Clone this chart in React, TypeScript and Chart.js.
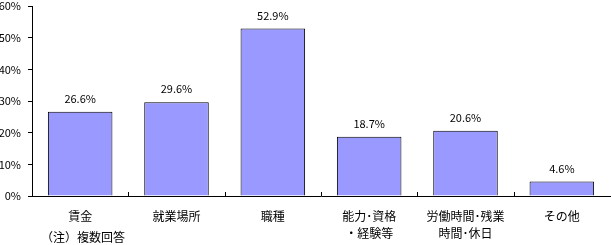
import React, { useEffect, useRef } from "react";
import { Chart, registerables } from "chart.js";

Chart.register(...registerables);

const categories: (string | string[])[] = [
  "賃金",
  "就業場所",
  "職種",
  ["能力･資格", "・経験等"],
  ["労働時間･残業", "時間･休日"],
  "その他",
];
const values: number[] = [26.6, 29.6, 52.9, 18.7, 20.6, 4.6];
const yTicks: number[] = [0, 10, 20, 30, 40, 50, 60];
const footnote = "（注）複数回答";

const FONT = "'Noto Sans CJK JP', 'DejaVu Sans', sans-serif";

const innerTicks = {
  id: "innerTicks",
  afterDraw(chart: any) {
    const x = chart.scales.x;
    const ctx = chart.ctx;
    const bottom = chart.chartArea.bottom;
    ctx.save();
    ctx.strokeStyle = "#000";
    ctx.lineWidth = 1;
    for (let i = 1; i < categories.length; i++) {
      const px = Math.round((x.getPixelForValue(i - 1) + x.getPixelForValue(i)) / 2) + 0.5;
      ctx.beginPath();
      ctx.moveTo(px, bottom - 4);
      ctx.lineTo(px, bottom);
      ctx.stroke();
    }
    ctx.restore();
  },
};

const dataLabels = {
  id: "dataLabels",
  afterDatasetsDraw(chart: any) {
    const ctx = chart.ctx;
    const meta = chart.getDatasetMeta(0);
    ctx.save();
    ctx.fillStyle = "#000";
    ctx.font = `11px ${FONT}`;
    ctx.textAlign = "center";
    ctx.textBaseline = "middle";
    meta.data.forEach((bar: any, i: number) => {
      ctx.fillText(values[i].toFixed(1) + "%", bar.x, bar.y - 13);
    });
    ctx.restore();
  },
};

export default function App() {
  const ref = useRef<HTMLCanvasElement>(null);
  useEffect(() => {
    if (!ref.current) return;
    const chart = new Chart(ref.current, {
      type: "bar",
      data: {
        labels: categories,
        datasets: [
          {
            data: values,
            backgroundColor: "#9999FF",
            borderColor: "#000000",
            borderWidth: 1,
            categoryPercentage: 1,
            barPercentage: 0.67,
          },
        ],
      },
      options: {
        responsive: false,
        animation: false,
        layout: { padding: { top: 6, right: 1, bottom: 0, left: 0 } },
        plugins: {
          legend: { display: false },
          tooltip: { enabled: false },
        },
        scales: {
          x: {
            offset: true,
            grid: { display: false },
            border: { display: true, color: "#000" },
            ticks: {
              color: "#000",
              font: { family: FONT, size: 12, lineHeight: 1.4 },
              maxRotation: 0,
              autoSkip: false,
              padding: 4,
            },
            afterFit(scale: any) {
              scale.height = 49;
              scale.paddingLeft = 0;
              scale.paddingRight = 0;
            },
          },
          y: {
            min: 0,
            max: 60,
            afterBuildTicks(scale: any) {
              scale.ticks = yTicks.map((v) => ({ value: v }));
            },
            grid: {
              display: true,
              drawOnChartArea: false,
              drawTicks: true,
              tickLength: 4,
              color: "#000",
            },
            border: { display: true, color: "#000" },
            ticks: {
              color: "#000",
              font: { family: FONT, size: 11 },
              padding: 7,
              callback: (v: any) => v + "%",
            },
            afterFit(scale: any) {
              scale.width = 32;
              scale.paddingTop = 0;
              scale.paddingBottom = 0;
            },
          },
        },
      },
      plugins: [innerTicks, dataLabels],
    });
    return () => chart.destroy();
  }, []);
  return (
    <div style={{ position: "fixed", left: 0, top: 0, width: 611, height: 245, background: "#fff" }}>
      <canvas ref={ref} width={611} height={245} style={{ display: "block" }} />
      <div
        style={{
          position: "absolute",
          left: 41,
          top: 229,
          fontFamily: FONT,
          fontSize: 12,
          lineHeight: "16px",
          color: "#000",
          whiteSpace: "nowrap",
        }}
      >
        {footnote}
      </div>
    </div>
  );
}
